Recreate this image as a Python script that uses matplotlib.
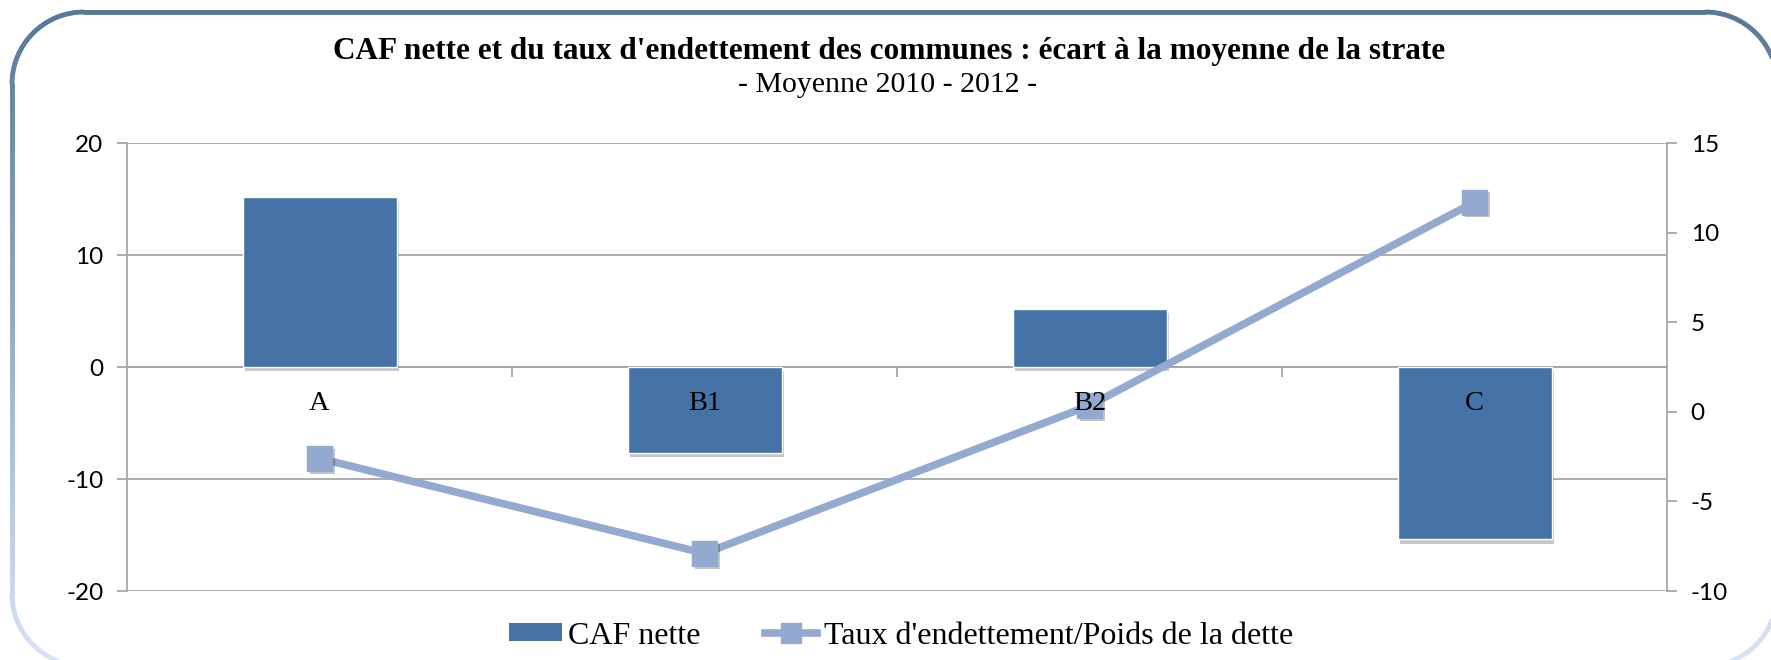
import numpy as np
import matplotlib.pyplot as plt
import matplotlib.patheffects as pe
from matplotlib.collections import LineCollection
from matplotlib.colors import to_rgb
from matplotlib.transforms import ScaledTranslation
from matplotlib.patches import Patch
from matplotlib.lines import Line2D

plt.rcParams["axes.unicode_minus"] = False

# --------------- DATA -------------------------------------------------------
categories       = ["A", "B1", "B2", "C"]
caf_nette        = [15.2, -7.7, 5.2, -15.4]      # left axis
taux_endettement = [-2.6, -7.9, 0.35, 11.7]      # right axis

left_ticks  = [-20, -10, 0, 10, 20]
right_ticks = [-10, -5, 0, 5, 10, 15]

title    = "CAF nette et du taux d'endettement des communes : écart à la moyenne de la strate"
subtitle = "- Moyenne 2010 - 2012 -"
legend_labels = ["CAF nette", "Taux d'endettement/Poids de la dette"]

# --------------- STYLE ------------------------------------------------------
BAR_BLUE  = "#4572a7"
LINE_BLUE = "#93a9cf"
GRID      = "#a6a6a6"
SERIF     = "Liberation Serif"
SANS      = "Lato"

W, H = 1771, 660
fig = plt.figure(figsize=(W / 100, H / 100), dpi=100)

# --------------- ROUNDED FRAME (fades from slate to pale blue) --------------
bg = fig.add_axes([0, 0, 1, 1], zorder=0)
bg.set_xlim(0, W)
bg.set_ylim(H, 0)
bg.axis("off")


def rounded_rect(x0, y0, x1, y1, r, n=40):
    corners = [(x1 - r, y0 + r, -90, 0), (x1 - r, y1 - r, 0, 90),
               (x0 + r, y1 - r, 90, 180), (x0 + r, y0 + r, 180, 270)]
    pts = []
    for cx, cy, a0, a1 in corners:
        a = np.radians(np.linspace(a0, a1, n))
        pts.extend(zip(cx + r * np.cos(a), cy + r * np.sin(a)))
    pts.append(pts[0])
    return np.array(pts)


def densify(pts, step=3.0):
    out = [pts[0]]
    for p, q in zip(pts[:-1], pts[1:]):
        k = max(int(np.hypot(*(q - p)) / step), 1)
        for t in np.linspace(0, 1, k + 1)[1:]:
            out.append(p + t * (q - p))
    return np.array(out)


y_top, y_bot = 12, 666
pts = densify(rounded_rect(12, y_top, 1777, y_bot, 72))
segs = np.stack([pts[:-1], pts[1:]], axis=1)
c_top, c_bot = np.array(to_rgb("#56789a")), np.array(to_rgb("#dae4f5"))
t = np.clip((segs[:, :, 1].mean(axis=1) - y_top) / (y_bot - y_top), 0, 1)[:, None]
bg.add_collection(LineCollection(segs, colors=(1 - t) * c_top + t * c_bot,
                                 linewidths=3.4, capstyle="round"))

# --------------- TITLES -----------------------------------------------------
fig.text(889 / W, 1 - 52 / H, title, ha="center", va="center",
         fontsize=22.5, weight="bold", family=SERIF)
fig.text(888 / W, 1 - 85 / H, subtitle, ha="center", va="center",
         fontsize=21.5, family=SERIF)

# --------------- MAIN AXES --------------------------------------------------
ax = fig.add_axes([127 / W, 1 - 591 / H, 1540 / W, 448 / H], zorder=1)
x = np.arange(len(categories))

shadow = [pe.SimplePatchShadow(offset=(2, -3), shadow_rgbFace="k", alpha=0.22),
          pe.Normal()]
ax.bar(x, caf_nette, width=0.4, color=BAR_BLUE, edgecolor="white",
       linewidth=1.0, zorder=3, path_effects=shadow)

ax.set_xlim(-0.5, len(categories) - 0.5)
ax.set_ylim(left_ticks[0], left_ticks[-1])
ax.set_yticks(left_ticks)
ax.grid(axis="y", color=GRID, linewidth=1.3)
ax.set_axisbelow(True)

ax.spines["top"].set_visible(False)
ax.spines["right"].set_visible(False)
ax.spines["left"].set_color(GRID)
ax.spines["left"].set_linewidth(1.3)
ax.spines["bottom"].set_position(("data", 0))
ax.spines["bottom"].set_color(GRID)
ax.spines["bottom"].set_linewidth(1.3)

# category separators hang from the zero line
ax.set_xticks(x[:-1] + 0.5)
ax.tick_params(axis="x", length=7, width=1.3, color=GRID, direction="out",
               labelbottom=False)
ax.tick_params(axis="y", length=7, width=1.3, color=GRID, labelsize=17.5, pad=10)
for lab in ax.get_yticklabels():
    lab.set_family(SANS)

# --------------- SECONDARY AXIS (line) --------------------------------------
ax2 = ax.twinx()
ax2.set_ylim(right_ticks[0], right_ticks[-1])
ax2.set_yticks(right_ticks)
for side in ["top", "left", "bottom"]:
    ax2.spines[side].set_visible(False)
ax2.spines["right"].set_color(GRID)
ax2.spines["right"].set_linewidth(1.3)
ax2.tick_params(axis="y", length=7, width=1.3, color=GRID, labelsize=17.5, pad=10)
for lab in ax2.get_yticklabels():
    lab.set_family(SANS)

ax2.plot(x, taux_endettement, color=LINE_BLUE, linewidth=5.5, zorder=3,
         solid_joinstyle="miter")
ax2.plot(x, taux_endettement, linestyle="none", marker="s", markersize=18,
         markerfacecolor=LINE_BLUE, markeredgecolor=LINE_BLUE, zorder=4,
         path_effects=[pe.SimplePatchShadow(offset=(2, -2), shadow_rgbFace="k",
                                            alpha=0.22), pe.Normal()])

# category names just under the zero line, drawn above everything
lab_off = ax.transData + ScaledTranslation(0, -0.36, fig.dpi_scale_trans)
for xi, name in zip(x, categories):
    ax2.text(xi, 0, name, transform=lab_off, ha="center", va="center",
             fontsize=20.5, family=SERIF, zorder=6)

# --------------- LEGEND -----------------------------------------------------
handles = [Patch(facecolor=BAR_BLUE, edgecolor="none"),
           Line2D([], [], color=LINE_BLUE, linewidth=5.5, marker="s",
                  markersize=15, markerfacecolor=LINE_BLUE,
                  markeredgecolor=LINE_BLUE)]
fig.legend(handles, legend_labels, loc="center",
           bbox_to_anchor=(901 / W, 1 - 636 / H), ncol=2, frameon=False,
           prop={"family": SERIF, "size": 23}, handlelength=1.65,
           handleheight=0.5, handletextpad=0.2, columnspacing=2.0)

fig.savefig("out.png", dpi=100, facecolor="white")
